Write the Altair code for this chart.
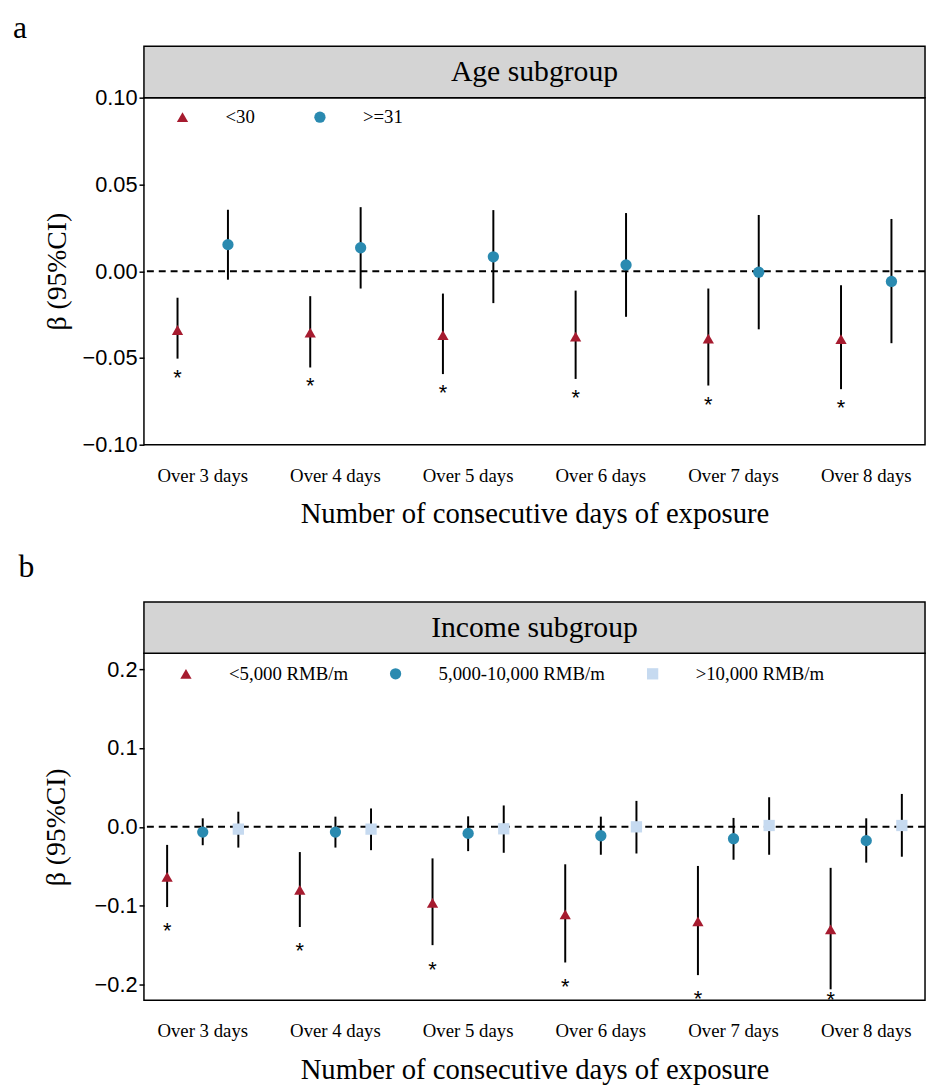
import altair as alt
import pandas as pd

# ---------------- data ----------------
days = ["Over 3 days", "Over 4 days", "Over 5 days", "Over 6 days", "Over 7 days", "Over 8 days"]

age_groups = ["<30", ">=31"]
age_lt30_beta = [-0.0339, -0.0354, -0.0369, -0.0377, -0.0388, -0.0392]
age_lt30_lo = [-0.0504, -0.0555, -0.0593, -0.0621, -0.0659, -0.0680]
age_lt30_hi = [-0.0153, -0.0144, -0.0129, -0.0112, -0.0100, -0.0081]
age_lt30_sig = [1, 1, 1, 1, 1, 1]
age_ge31_beta = [0.0153, 0.0135, 0.0083, 0.0036, -0.0006, -0.0059]
age_ge31_lo = [-0.0049, -0.0100, -0.0184, -0.0263, -0.0335, -0.0415]
age_ge31_hi = [0.0354, 0.0369, 0.0352, 0.0335, 0.0324, 0.0301]
age_ge31_sig = [0, 0, 0, 0, 0, 0]

inc_groups = ["<5,000 RMB/m", "5,000-10,000 RMB/m", ">10,000 RMB/m"]
inc_low_beta = [-0.0633, -0.0800, -0.0963, -0.1110, -0.1200, -0.1300]
inc_low_lo = [-0.1017, -0.1270, -0.1500, -0.1720, -0.1880, -0.2060]
inc_low_hi = [-0.0229, -0.0320, -0.0400, -0.0475, -0.0496, -0.0520]
inc_low_sig = [1, 1, 1, 1, 1, 1]
inc_mid_beta = [-0.0067, -0.0067, -0.0083, -0.0113, -0.0150, -0.0175]
inc_mid_lo = [-0.0233, -0.0263, -0.0308, -0.0354, -0.0417, -0.0454]
inc_mid_hi = [0.0108, 0.0129, 0.0133, 0.0129, 0.0113, 0.0108]
inc_mid_sig = [0, 0, 0, 0, 0, 0]
inc_high_beta = [-0.0029, -0.0029, -0.0025, 0.0000, 0.0017, 0.0017]
inc_high_lo = [-0.0263, -0.0296, -0.0329, -0.0338, -0.0354, -0.0379]
inc_high_hi = [0.0192, 0.0233, 0.0271, 0.0329, 0.0375, 0.0417]
inc_high_sig = [0, 0, 0, 0, 0, 0]

age_yticks = [-0.10, -0.05, 0.00, 0.05, 0.10]
inc_yticks = [-0.2, -0.1, 0.0, 0.1, 0.2]


def build(groups, series):
    rows = []
    for g, (b, lo, hi, sig) in zip(groups, series):
        for d, bv, lv, hv, sv in zip(days, b, lo, hi, sig):
            rows.append({"day": d, "group": g, "beta": bv, "lo": lv, "hi": hv, "sig": sv})
    return pd.DataFrame(rows)


age_df = build(age_groups, [
    (age_lt30_beta, age_lt30_lo, age_lt30_hi, age_lt30_sig),
    (age_ge31_beta, age_ge31_lo, age_ge31_hi, age_ge31_sig),
])
inc_df = build(inc_groups, [
    (inc_low_beta, inc_low_lo, inc_low_hi, inc_low_sig),
    (inc_mid_beta, inc_mid_lo, inc_mid_hi, inc_mid_sig),
    (inc_high_beta, inc_high_lo, inc_high_hi, inc_high_sig),
])

# ---------------- styling ----------------
RED = "#A61B2F"
BLUE = "#2A8AB0"
LIGHT = "#C6DAF0"
SERIF = "Liberation Serif"
SANS = "Liberation Sans"
W = 790
H = 351
STRIP = 52
one = pd.DataFrame({"k": [0]})
zero_df = pd.DataFrame({"z": [0.0]})


def panel(df, groups, colors, shapes, ydomain, yticks, yfmt, strip_title, letter,
          letter_x, letter_y, off_pad, col_pad, star_gap, title_pad, leg_x, leg_y):
    x_enc = alt.X(
        "day:N", sort=days,
        scale=alt.Scale(paddingInner=0.114, paddingOuter=0),
        axis=alt.Axis(
            title="Number of consecutive days of exposure", labelAngle=0,
            ticks=False, tickSize=0, domain=False, grid=False,
            labelFont=SERIF, labelFontSize=19, labelColor="black", labelPadding=22,
            titleFont=SERIF, titleFontSize=29, titleFontWeight="normal",
            titleColor="black", titlePadding=15,
        ),
    )
    xo_enc = alt.XOffset("group:N", sort=groups,
                         scale=alt.Scale(paddingInner=0, paddingOuter=off_pad))
    y_scale = alt.Scale(domain=ydomain, nice=False, zero=False)
    y_axis = alt.Axis(
        values=yticks, format=yfmt, title="β (95%CI)", grid=False, domain=False,
        ticks=True, tickSize=5, tickWidth=1.5, tickColor="black",
        labelFont=SANS, labelFontSize=22, labelColor="black", labelPadding=2,
        titleFont=SERIF, titleFontSize=28, titleFontWeight="normal",
        titleColor="black", titlePadding=title_pad,
    )
    legend = alt.Legend(
        orient="none", legendX=leg_x, legendY=leg_y, direction="horizontal",
        title=None, labelFont=SERIF, labelFontSize=19, labelColor="black",
        labelOffset=34, columnPadding=col_pad, symbolSize=130, labelLimit=0,
        symbolStrokeWidth=0, padding=0,
    )

    strip_rect = alt.Chart(one).mark_rect(
        fill="#D4D4D4", stroke="black", strokeWidth=1.5
    ).encode(x=alt.value(0), x2=alt.value(W), y=alt.value(-STRIP), y2=alt.value(0))
    strip_text = alt.Chart(one).mark_text(
        font=SERIF, fontSize=30, color="black", baseline="middle", align="center"
    ).encode(x=alt.value(W / 2), y=alt.value(-STRIP / 2), text=alt.value(strip_title))
    letter_text = alt.Chart(one).mark_text(
        font=SERIF, fontSize=32, color="black", baseline="alphabetic", align="left"
    ).encode(x=alt.value(letter_x), y=alt.value(letter_y), text=alt.value(letter))

    zero = alt.Chart(zero_df).mark_rule(
        color="black", strokeWidth=2, strokeDash=[7, 5]
    ).encode(y=alt.Y("z:Q", scale=y_scale, axis=y_axis))

    bars = alt.Chart(df).mark_rule(color="black", strokeWidth=2).encode(
        x=x_enc, xOffset=xo_enc,
        y=alt.Y("lo:Q", scale=y_scale, axis=y_axis), y2="hi:Q",
    )
    pts = alt.Chart(df).mark_point(filled=True, size=130, opacity=1, strokeWidth=0).encode(
        x=x_enc, xOffset=xo_enc,
        y=alt.Y("beta:Q", scale=y_scale, axis=y_axis),
        color=alt.Color("group:N", sort=groups,
                        scale=alt.Scale(domain=groups, range=colors), legend=legend),
        shape=alt.Shape("group:N", sort=groups,
                        scale=alt.Scale(domain=groups, range=shapes), legend=legend),
    )
    stars = alt.Chart(df).transform_filter("datum.sig == 1").transform_calculate(
        star=f"max(datum.lo - {star_gap}, {ydomain[0]})"
    ).mark_text(
        text="*", font=SANS, fontSize=22, color="black", baseline="middle", align="center"
    ).encode(
        x=x_enc, xOffset=xo_enc, y=alt.Y("star:Q", scale=y_scale, axis=y_axis),
    )
    return alt.layer(strip_rect, strip_text, letter_text, zero, bars, pts, stars).properties(
        width=W, height=H
    )


top = panel(age_df, age_groups, [RED, BLUE], ["triangle-up", "circle"],
            [-0.10, 0.10], age_yticks, ".2f", "Age subgroup", "a",
            -132.5, -60.5, 0.166, 56, 0.011, 11, 29.5, 10)
bottom = panel(inc_df, inc_groups, [RED, BLUE, LIGHT], ["triangle-up", "circle", "square"],
               [-0.22, 0.22], inc_yticks, ".1f", "Income subgroup", "b",
               -127, -77, 0.151, 38, 0.031, 23.6, 33, 11)

chart = alt.vconcat(top, bottom, spacing=21).resolve_scale(
    x="independent", y="independent", xOffset="independent",
    color="independent", shape="independent",
).resolve_legend(color="independent", shape="independent").properties(
    padding={"left": 3.5, "top": -3.5, "right": 0, "bottom": 0},
    background="white",
).configure_view(stroke="black", strokeWidth=1.5)

chart.save("out.html", embed_options={"renderer": "svg", "actions": False})
